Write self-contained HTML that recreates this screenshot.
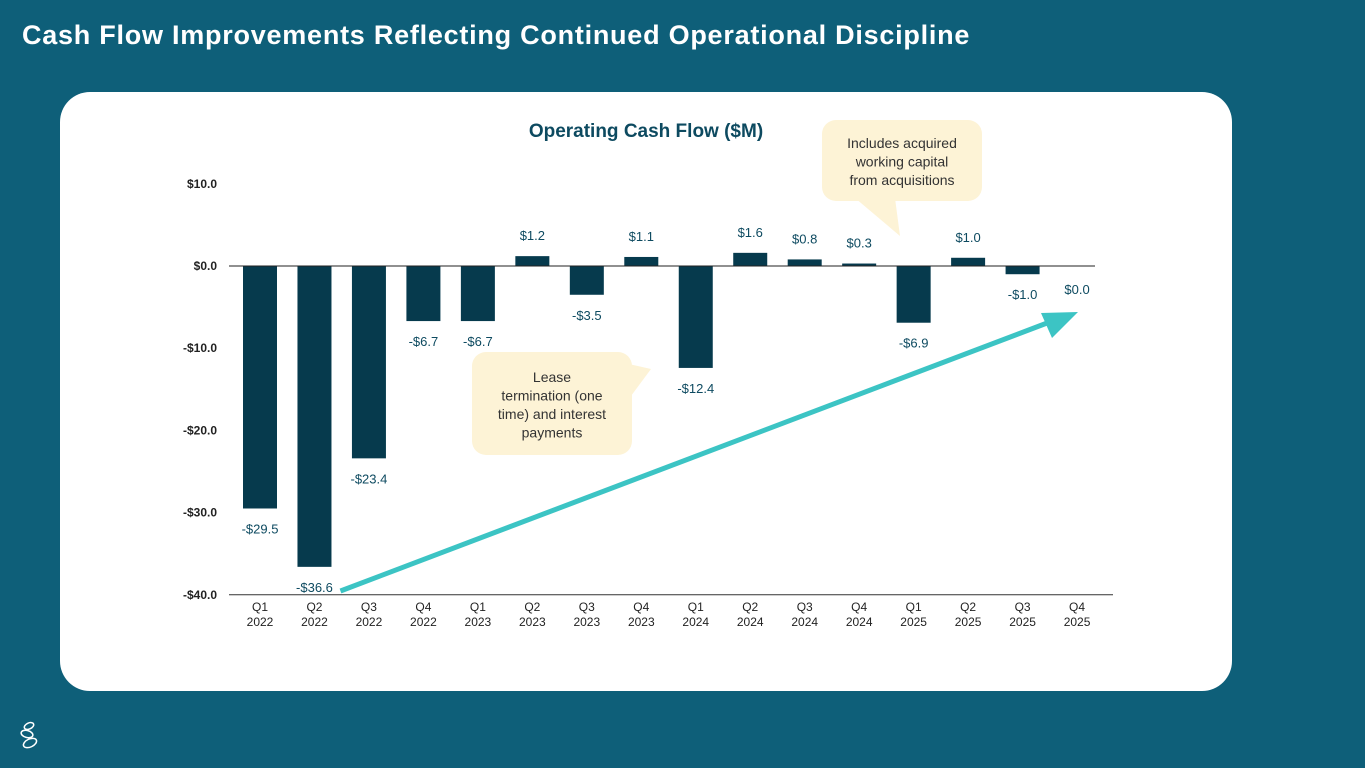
<!DOCTYPE html>
<html><head><meta charset="utf-8"><style>
body{margin:0;width:1365px;height:768px;background:#0e5f79;overflow:hidden;font-family:"Liberation Sans",sans-serif;}
#title{position:absolute;left:22px;top:20px;color:#fff;font-size:27px;font-weight:bold;margin:0;letter-spacing:0.75px;}
#card{position:absolute;left:60px;top:92px;width:1172px;height:599px;background:#fff;border-radius:30px;}
svg{position:absolute;left:0;top:0;}
</style></head><body>
<h1 id="title">Cash Flow Improvements Reflecting Continued Operational Discipline</h1>
<div id="card"></div>
<svg id="chart" width="1365" height="768">
<text x="646" y="137" text-anchor="middle" font-size="19" font-weight="bold" fill="#0d4a60">Operating Cash Flow ($M)</text>
<g id="marks"></g>
<g fill="none" stroke="#fff" stroke-width="1.5">
<ellipse cx="29" cy="726" rx="5" ry="3" transform="rotate(-25 29 726)"/>
<ellipse cx="27" cy="734" rx="6" ry="3.5" transform="rotate(15 27 734)"/>
<ellipse cx="30" cy="743" rx="7" ry="4" transform="rotate(-25 30 743)"/>
</g>
</svg>
<script>
const categories=["Q1 2022","Q2 2022","Q3 2022","Q4 2022","Q1 2023","Q2 2023","Q3 2023","Q4 2023","Q1 2024","Q2 2024","Q3 2024","Q4 2024","Q1 2025","Q2 2025","Q3 2025","Q4 2025"];
const values=[-29.5,-36.6,-23.4,-6.7,-6.7,1.2,-3.5,1.1,-12.4,1.6,0.8,0.3,-6.9,1.0,-1.0,0.0];
const yTicks=[10,0,-10,-20,-30,-40];
const NS="http://www.w3.org/2000/svg";
const g=document.getElementById('marks');
const y=v=>266-(v)*8.22;
const x=i=>260+i*54.47;
function mk(t,a,txt){const e=document.createElementNS(NS,t);for(const k in a)e.setAttribute(k,a[k]);if(txt!=null)e.textContent=txt;g.appendChild(e);return e;}
yTicks.forEach(v=>{const e=mk('text',{x:217,y:y(v)+4,'text-anchor':'end','font-size':12,'font-weight':'bold',fill:'#222'});
e.textContent=(v<0?'-$':'$')+Math.abs(v).toFixed(1);

});
const ax=mk('line',{x1:229,x2:1113,y1:y(-40),y2:y(-40),stroke:'#333','stroke-width':1});


values.forEach((v,i)=>{
const h=Math.max(Math.abs(y(v)-y(0)),v===0?0:1.5);
const r=mk('rect',{x:x(i)-17,y:v>=0?y(0)-h:y(0),width:34,height:h,fill:'#063a4d'});


const ly=v>0?y(v)-16:(v<0?y(v)+25:y(0)+28);
const l=mk('text',{x:x(i),y:ly,'text-anchor':'middle','font-size':13,fill:'#0d4a60'},(v<0?'-$':'$')+Math.abs(v).toFixed(1));


const p=categories[i].split(' ');
const c=mk('text',{x:x(i),y:611,'text-anchor':'middle','font-size':12,fill:'#222'});


p.forEach((s,k)=>{const t=document.createElementNS(NS,'tspan');t.setAttribute('x',x(i));t.setAttribute('dy',k?15:0);t.textContent=s;c.appendChild(t);});
});
const zl=mk('line',{x1:229,x2:1095,y1:y(0),y2:y(0),stroke:'#222','stroke-width':1});


const ar=mk('line',{x1:x(1)+26,y1:591,x2:1055,y2:320,stroke:'#3cc4c4','stroke-width':5});


const ah=mk('polygon',{points:'1078,312 1041,313 1052,338',fill:'#3cc4c4'});


function callout(name,bx,by,w,h,tail,lines,ty){
const gg=document.createElementNS(NS,'g');g.appendChild(gg);


const r=document.createElementNS(NS,'rect');
[['x',bx],['y',by],['width',w],['height',h],['rx',14],['fill','#fdf3d6']].forEach(a=>r.setAttribute(a[0],a[1]));gg.appendChild(r);
const p=document.createElementNS(NS,'polygon');p.setAttribute('points',tail);p.setAttribute('fill','#fdf3d6');gg.appendChild(p);
lines.forEach((s,k)=>{const t=document.createElementNS(NS,'text');t.setAttribute('x',bx+w/2);t.setAttribute('y',ty+k*18.5);t.setAttribute('text-anchor','middle');t.setAttribute('font-size',14);t.setAttribute('fill','#333');t.textContent=s;gg.appendChild(t);});
}
callout('lease-termination-callout',472,352,160,103,'620,362 651,369 628,400',["Lease","termination (one","time) and interest","payments"],382);
callout('acquisition-callout',822,120,160,81,'855,198 900,236 895,198',["Includes acquired","working capital","from acquisitions"],148);
</script>
</body></html>
